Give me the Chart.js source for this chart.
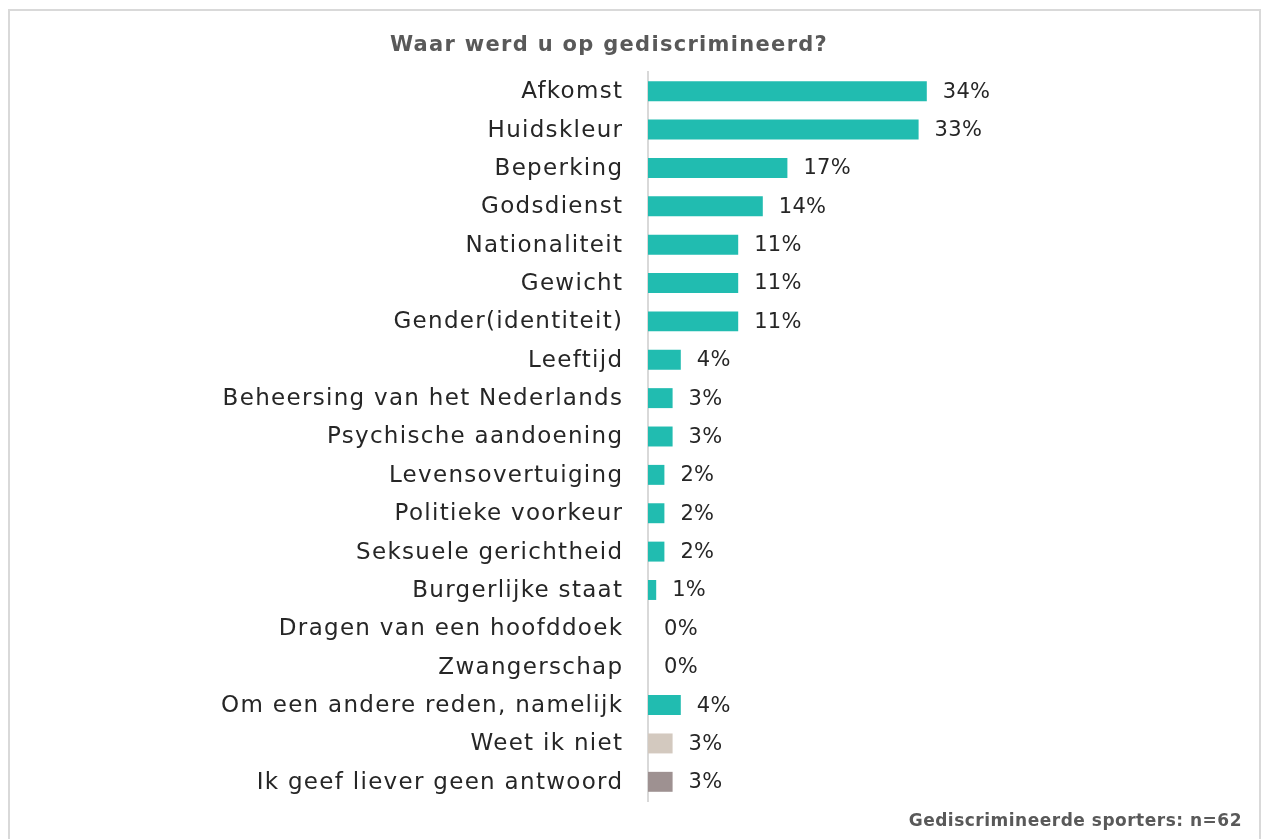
<!DOCTYPE html>
<html>
<head>
<meta charset="utf-8">
<script src="https://cdn.jsdelivr.net/npm/chart.js@4/dist/chart.umd.min.js"></script>
<style>
  html, body { margin: 0; padding: 0; background: #fff; }
  #wrap { position: relative; width: 1262px; height: 839px; overflow: hidden; }
  #frame { position: absolute; left: 8px; top: 9px; width: 1253px; height: 900px;
           border: 2px solid #d9d9d9; box-sizing: border-box; }
  canvas { position: absolute; left: 0; top: 0; }
</style>
</head>
<body>
<div id="wrap">
  <div id="frame"></div>
  <canvas id="c" width="1262" height="839"></canvas>
</div>
<script>
const categories = [
  'Afkomst', 'Huidskleur', 'Beperking', 'Godsdienst', 'Nationaliteit', 'Gewicht',
  'Gender(identiteit)', 'Leeftijd', 'Beheersing van het Nederlands', 'Psychische aandoening',
  'Levensovertuiging', 'Politieke voorkeur', 'Seksuele gerichtheid', 'Burgerlijke staat',
  'Dragen van een hoofddoek', 'Zwangerschap', 'Om een andere reden, namelijk',
  'Weet ik niet', 'Ik geef liever geen antwoord'
];
const percentages = [34, 33, 17, 14, 11, 11, 11, 4, 3, 3, 2, 2, 2, 1, 0, 0, 4, 3, 3];
const barColors = [
  '#21bcb0', '#21bcb0', '#21bcb0', '#21bcb0', '#21bcb0', '#21bcb0', '#21bcb0',
  '#21bcb0', '#21bcb0', '#21bcb0', '#21bcb0', '#21bcb0', '#21bcb0', '#21bcb0',
  '#21bcb0', '#21bcb0', '#21bcb0', '#d3c9bf', '#9e9191'
];
const titleText = 'Waar werd u op gediscrimineerd?';
const footerText = 'Gediscrimineerde sporters: n=62';

const FONT = "'DejaVu Sans', sans-serif";
const AXIS_LEFT = 648;
const LABEL_TRACKING = 1.3;

// Category names to the left of the axis, drawn with a little tracking
const categoryLabels = {
  id: 'categoryLabels',
  afterDraw(chart) {
    const ctx = chart.ctx;
    const yScale = chart.scales.y;
    ctx.save();
    ctx.font = '23px ' + FONT;
    ctx.letterSpacing = LABEL_TRACKING + 'px';
    ctx.fillStyle = '#262626';
    ctx.textAlign = 'right';
    ctx.textBaseline = 'middle';
    categories.forEach((name, i) => {
      ctx.fillText(name, yScale.right - 26 + LABEL_TRACKING, yScale.getPixelForValue(i) + 1);
    });
    ctx.restore();
  }
};

// Percentage labels at the end of each bar
const valueLabels = {
  id: 'valueLabels',
  afterDatasetsDraw(chart) {
    const ctx = chart.ctx;
    const meta = chart.getDatasetMeta(0);
    ctx.save();
    ctx.font = '21px ' + FONT;
    ctx.letterSpacing = '0.3px';
    ctx.fillStyle = '#262626';
    ctx.textAlign = 'left';
    ctx.textBaseline = 'middle';
    meta.data.forEach((bar, i) => {
      ctx.fillText(percentages[i] + '%', bar.x + 16, bar.y + 1);
    });
    ctx.restore();
  }
};

// Heading above the bars and sample size note at the bottom right
const headings = {
  id: 'headings',
  afterDraw(chart) {
    const ctx = chart.ctx;
    ctx.save();
    ctx.fillStyle = '#595959';
    ctx.textBaseline = 'middle';
    ctx.font = 'bold 21px ' + FONT;
    ctx.letterSpacing = '1.3px';
    ctx.textAlign = 'center';
    ctx.fillText(titleText, 609, 46);
    ctx.font = 'bold 17px ' + FONT;
    ctx.letterSpacing = '0.5px';
    ctx.textAlign = 'right';
    ctx.fillText(footerText, 1242, 822);
    ctx.restore();
  }
};

new Chart(document.getElementById('c'), {
  type: 'bar',
  data: {
    labels: categories,
    datasets: [{
      data: percentages,
      backgroundColor: barColors,
      borderWidth: 0,
      barPercentage: 0.52,
      categoryPercentage: 1.0
    }]
  },
  options: {
    indexAxis: 'y',
    responsive: false,
    animation: false,
    devicePixelRatio: 1,
    layout: { padding: { left: 10, right: 286, top: 72, bottom: 38 } },
    plugins: {
      legend: { display: false },
      tooltip: { enabled: false },
      title: { display: false }
    },
    scales: {
      x: {
        display: false,
        min: 0,
        max: 40
      },
      y: {
        afterFit(scale) { scale.width = AXIS_LEFT - 10; },
        grid: { display: false, drawTicks: false },
        border: { display: true, color: '#d9d9d9', width: 2 },
        ticks: { display: false }
      }
    }
  },
  plugins: [valueLabels, categoryLabels, headings]
});
</script>
</body>
</html>
